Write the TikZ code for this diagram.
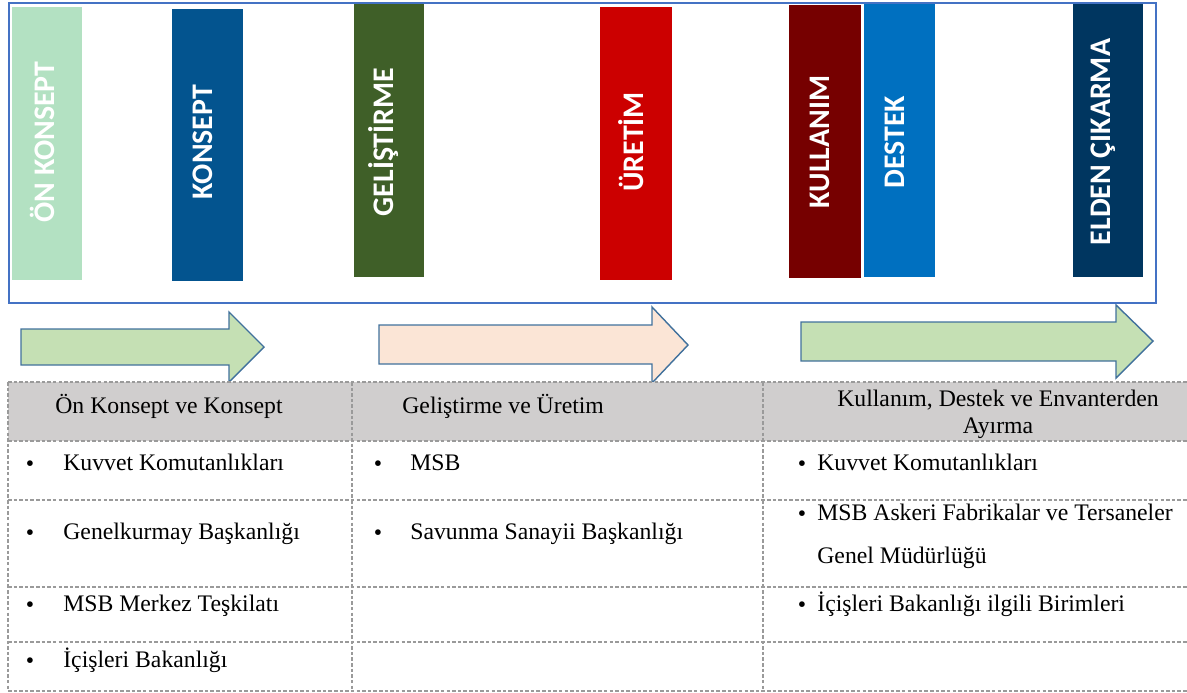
\documentclass[tikz,border=0pt]{standalone}
\usepackage{fontspec}
\setmainfont{Liberation Serif}
\newfontfamily\barfont{Carlito}
\usepackage{tikz}
\usetikzlibrary{calc}
\usetikzlibrary{positioning}

\definecolor{onkonsept}{HTML}{B3E1C2}
\definecolor{konsept}{HTML}{03548F}
\definecolor{gelistirme}{HTML}{3F5F28}
\definecolor{uretim}{HTML}{CC0000}
\definecolor{kullanim}{HTML}{760000}
\definecolor{destek}{HTML}{0070C0}
\definecolor{elden}{HTML}{003660}
\definecolor{frameblue}{HTML}{4472C4}
\definecolor{arrowline}{HTML}{41719C}
\definecolor{arrowgreen}{HTML}{C5E0B4}
\definecolor{arrowpeach}{HTML}{FBE5D6}
\definecolor{headgray}{HTML}{D0CECE}
\definecolor{rulegray}{HTML}{9A9A9A}

\tikzset{
    phase/.style={rotate=90, text=white, inner sep=0pt, font=\barfont\bfseries\fontsize{17}{19}\selectfont},
    block/.style={draw=arrowline, line width=0.8pt, line join=miter},
    rule/.style={draw=rulegray, line width=0.6pt, dash pattern=on 2pt off 1.2pt},
    headtxt/.style={inner sep=0pt, font=\fontsize{13.5}{15.4}\selectfont},
    cell/.style={anchor=west, inner sep=0pt, text height=0.7em, text depth=0.2em, font=\fontsize{13.5}{15}\selectfont},
    dot/.style={inner sep=0pt, font=\fontsize{13.5}{15}\selectfont}
}

\begin{document}
\begin{tikzpicture}[x=0.02cm, y=-0.02cm]

        \useasboundingbox (0,0) rectangle (1187,693);

        \foreach \name/\xa/\ya/\xb/\yb/\col/\txt in {
                onk/12/7/82/280/onkonsept/ÖN KONSEPT,
                kon/172/9/243/281/konsept/KONSEPT,
                gel/354/4/424/277/gelistirme/GELİŞTİRME,
                ure/600/7/672/280/uretim/ÜRETİM,
                kul/789/5/861/278/kullanim/KULLANIM,
                des/864/4/935/277/destek/DESTEK,
                eld/1073/4/1143/277/elden/ELDEN ÇIKARMA}
        {
            \path[fill=\col] (\xa,\ya) rectangle (\xb,\yb);
            \node[phase] (\name) at ({(\xa+\xb)/2-5},142) {\txt};
        }

        \path[draw=frameblue, line width=1.1pt] (9,3) rectangle (1156,303);

        \coordinate (arr1) at (21,329);
        \coordinate (arr2) at (379,325);
        \coordinate (arr3) at (801,322);

        \path[block, fill=arrowgreen] (arr1) -- ++(208,0) -- ++(0,-17) -- ++(35,35) -- ++(-35,35) -- ++(0,-17) -- ++(-208,0) -- cycle;
        \path[block, fill=arrowpeach] (arr2) -- ++(273,0) -- ++(0,-18) -- ++(36,38) -- ++(-36,38) -- ++(0,-19) -- ++(-273,0) -- cycle;
        \path[block, fill=arrowgreen] (arr3) -- ++(315,0) -- ++(0,-17) -- ++(37,36) -- ++(-37,37) -- ++(0,-17) -- ++(-315,0) -- cycle;

        \path[fill=headgray] (8,382) rectangle (1187,441);
        \foreach \y in {382,441,500,587,642,691}
            \path[rule] (8,\y) -- (1187,\y);
        \foreach \x in {8,352,763}
            \path[rule] (\x,382) -- (\x,691);

        \node[headtxt, anchor=west] (h1) at (55,406) {Ön Konsept ve Konsept};
        \node[headtxt, anchor=west] (h2) at (402,406) {Geliştirme ve Üretim};
        \node[headtxt, align=center] (h3) at (998,414) {Kullanım, Destek ve Envanterden\\Ayırma};

        \foreach \n/\bx/\tx/\y/\txt in {
                a/30/63/466/Kuvvet Komutanlıkları,
                b/30/63/535/Genelkurmay Başkanlığı,
                c/30/63/607/MSB Merkez Teşkilatı,
                d/30/63/663/İçişleri Bakanlığı,
                e/378/410/466/MSB,
                f/378/410/535/Savunma Sanayii Başkanlığı,
                g/802/817/466/Kuvvet Komutanlıkları,
                h/802/817/516/MSB Askeri Fabrikalar ve Tersaneler,
                i/802/817/607/İçişleri Bakanlığı ilgili Birimleri}
        {
            \node[dot] (b\n) at (\bx,\y) {\textbullet};
            \node[cell] (t\n) at (\tx,\y) {\txt};
        }
        \node[cell] (th2) at (817,559) {Genel Müdürlüğü};

\end{tikzpicture}
\end{document}
